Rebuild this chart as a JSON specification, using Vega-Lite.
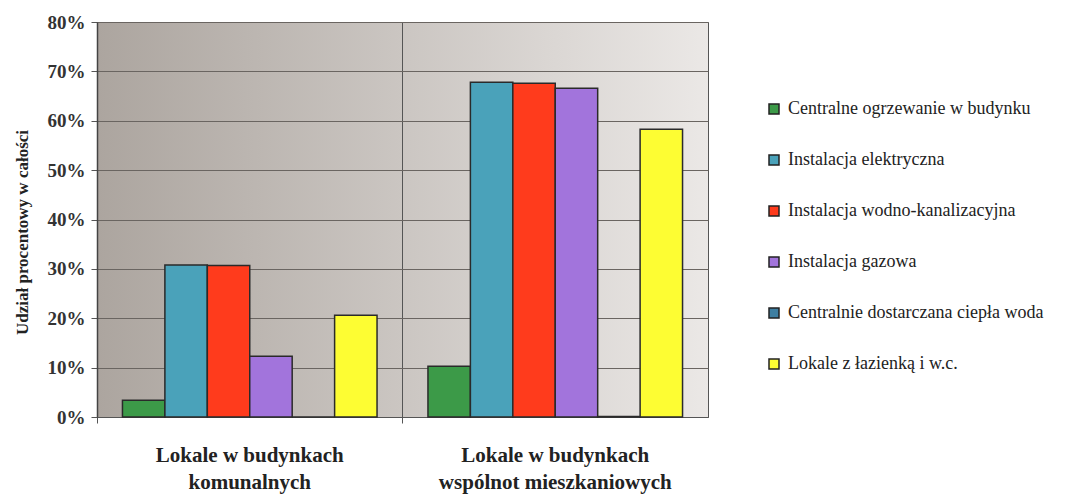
{
  "$schema": "https://vega.github.io/schema/vega-lite/v6.json",
  "autosize": "none",
  "padding": {"left": 97, "top": 22, "right": 365, "bottom": 77},
  "width": 611,
  "height": 395,
  "background": "#ffffff",
  "data": {
    "values": [
      {"grupa": "A", "seria": "Centralne ogrzewanie w budynku", "v": 0.034},
      {"grupa": "A", "seria": "Instalacja elektryczna", "v": 0.308},
      {"grupa": "A", "seria": "Instalacja wodno-kanalizacyjna", "v": 0.307},
      {"grupa": "A", "seria": "Instalacja gazowa", "v": 0.123},
      {"grupa": "A", "seria": "Centralnie dostarczana ciepła woda", "v": 0.0},
      {"grupa": "A", "seria": "Lokale z łazienką i w.c.", "v": 0.206},
      {"grupa": "B", "seria": "Centralne ogrzewanie w budynku", "v": 0.103},
      {"grupa": "B", "seria": "Instalacja elektryczna", "v": 0.678},
      {"grupa": "B", "seria": "Instalacja wodno-kanalizacyjna", "v": 0.676},
      {"grupa": "B", "seria": "Instalacja gazowa", "v": 0.666},
      {"grupa": "B", "seria": "Centralnie dostarczana ciepła woda", "v": 0.001},
      {"grupa": "B", "seria": "Lokale z łazienką i w.c.", "v": 0.583}
    ]
  },
  "config": {
    "view": {
      "stroke": "#555555",
      "strokeWidth": 1,
      "fill": {
        "gradient": "linear",
        "x1": 0, "y1": 0, "x2": 1, "y2": 0,
        "stops": [
          {"offset": 0, "color": "#aca59f"},
          {"offset": 0.5, "color": "#cbc6c2"},
          {"offset": 1, "color": "#ebe8e6"}
        ]
      }
    },
    "font": "Liberation Serif",
    "legend": {"labelFont": "Liberation Serif"}
  },
  "mark": {"type": "bar", "stroke": "#2a2a2a", "strokeWidth": 1.5},
  "encoding": {
    "x": {
      "field": "grupa",
      "type": "nominal",
      "scale": {"paddingInner": 0, "paddingOuter": 0},
      "axis": {
        "title": null,
        "labelAngle": 0,
        "labelExpr": "datum.value == 'A' ? ['Lokale w budynkach', 'komunalnych'] : ['Lokale w budynkach', 'wspólnot mieszkaniowych']",
        "labelFont": "Liberation Serif",
        "labelFontSize": 21,
        "labelFontWeight": "bold",
        "labelColor": "#222222",
        "labelPadding": 21,
        "labelLineHeight": 27,
        "labelLimit": 400,
        "bandPosition": 0,
        "grid": true,
        "gridColor": "#555555",
        "gridWidth": 1,
        "gridOpacity": 1,
        "ticks": true,
        "tickSize": 6,
        "tickColor": "#555555",
        "domainColor": "#555555"
      }
    },
    "xOffset": {
      "field": "seria",
      "type": "nominal",
      "sort": [
        "Centralne ogrzewanie w budynku",
        "Instalacja elektryczna",
        "Instalacja wodno-kanalizacyjna",
        "Instalacja gazowa",
        "Centralnie dostarczana ciepła woda",
        "Lokale z łazienką i w.c."
      ],
      "scale": {"paddingInner": 0, "paddingOuter": 0.6}
    },
    "y": {
      "field": "v",
      "type": "quantitative",
      "scale": {"domain": [0, 0.8], "nice": false},
      "axis": {
        "title": "Udział procentowy w całości",
        "titleFont": "Liberation Serif",
        "titleFontSize": 17,
        "titleFontWeight": "bold",
        "titleColor": "#222222",
        "titlePadding": 16,
        "titleY": 210,
        "format": ".0%",
        "values": [0, 0.1, 0.2, 0.3, 0.4, 0.5, 0.6, 0.7, 0.8],
        "labelFont": "Liberation Serif",
        "labelFontSize": 19,
        "labelFontWeight": "bold",
        "labelColor": "#333333",
        "labelPadding": 6,
        "grid": true,
        "gridColor": "#6a6561",
        "gridWidth": 1,
        "gridOpacity": 1,
        "tickColor": "#555555",
        "tickSize": 6,
        "domainColor": "#444444",
        "domainWidth": 1.5
      }
    },
    "color": {
      "field": "seria",
      "type": "nominal",
      "sort": [
        "Centralne ogrzewanie w budynku",
        "Instalacja elektryczna",
        "Instalacja wodno-kanalizacyjna",
        "Instalacja gazowa",
        "Centralnie dostarczana ciepła woda",
        "Lokale z łazienką i w.c."
      ],
      "scale": {
        "domain": [
          "Centralne ogrzewanie w budynku",
          "Instalacja elektryczna",
          "Instalacja wodno-kanalizacyjna",
          "Instalacja gazowa",
          "Centralnie dostarczana ciepła woda",
          "Lokale z łazienką i w.c."
        ],
        "range": ["#3c9a48", "#4aa2ba", "#ff3b1c", "#a274dc", "#3e7fa2", "#fdfd33"]
      },
      "legend": {
        "title": null,
        "orient": "none",
        "legendX": 668,
        "legendY": 78,
        "symbolType": "square",
        "symbolSize": 100,
        "symbolStrokeColor": "#222222",
        "symbolStrokeWidth": 1.5,
        "labelFont": "Liberation Serif",
        "labelFontSize": 18,
        "labelColor": "#222222",
        "labelLimit": 400,
        "labelOffset": 5,
        "rowPadding": 33,
        "symbolOffset": 0
      }
    }
  }
}
